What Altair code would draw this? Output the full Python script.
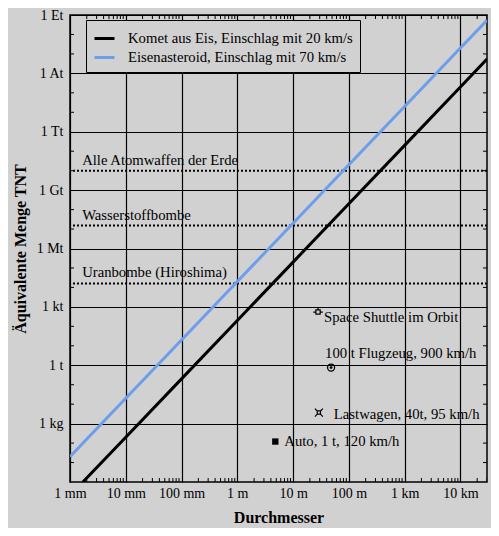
import altair as alt
import pandas as pd

# ---------------- data ----------------
# Diameter in metres, equivalent TNT in tonnes
komet_d = [0.0017, 0.01, 0.1, 1, 10, 100, 1000, 10000, 30000]
komet_t = [1e-6, 2e-4, 0.2, 200, 2e5, 2e8, 2e11, 2e14, 5.4e15]
eisen_d = [0.001, 0.01, 0.1, 1, 10, 100, 1000, 10000, 30000]
eisen_t = [2e-5, 2e-2, 20, 2e4, 2e7, 2e10, 2e13, 2e16, 5.4e17]
series_names = ["Komet aus Eis, Einschlag mit 20 km/s",
                "Eisenasteroid, Einschlag mit 70 km/s"]
series_colors = ["#000000", "#6d9eeb"]

ref_names = ["Alle Atomwaffen der Erde", "Wasserstoffbombe", "Uranbombe (Hiroshima)"]
ref_t = [1e10, 1.5e7, 1.6e4]

obj_names = ["Space Shuttle im Orbit", "100 t Flugzeug, 900 km/h",
             "Lastwagen, 40t, 95 km/h", "Auto, 1 t, 120 km/h"]
obj_d = [28, 48, 29, 4.8]
obj_t = [540, 0.76, 3.7e-3, 1.2e-4]

x_ticks = [1e-3, 1e-2, 1e-1, 1, 10, 100, 1000, 10000]
x_labels = ["1 mm", "10 mm", "100 mm", "1 m", "10 m", "100 m", "1 km", "10 km"]
y_ticks = [1e-3, 1, 1e3, 1e6, 1e9, 1e12, 1e15, 1e18]
y_labels = ["1 kg", "1 t", "1 kt", "1 Mt", "1 Gt", "1 Tt", "1 At", "1 Et"]
x_domain = [1e-3, 3e4]
y_domain = [1e-6, 1e18]

x_minor = [m * 10.0 ** e for e in range(-3, 5) for m in range(2, 10) if m * 10.0 ** e <= 3e4]
y_minor = [10.0 ** e for e in range(-5, 18) if e % 3 != 0]

# ---------------- tables ----------------
lines_df = pd.DataFrame(
    {"d": komet_d + eisen_d,
     "t": komet_t + eisen_t,
     "series": [series_names[0]] * len(komet_d) + [series_names[1]] * len(eisen_d)})
ref_df = pd.DataFrame({"name": ref_names, "t": ref_t})
obj_df = pd.DataFrame({"name": obj_names, "d": obj_d, "t": obj_t})
xminor_df = pd.DataFrame({"d": x_minor * 2,
                          "t": [y_domain[0]] * len(x_minor) + [y_domain[1]] * len(x_minor)})
yminor_df = pd.DataFrame({"t": y_minor * 2,
                          "d": [x_domain[0]] * len(y_minor) + [x_domain[1]] * len(y_minor)})

FONT = "Liberation Serif"
BG = "#d1d1d1"
TXT = 14.7

def arr_expr(labels, idx):
    return "[" + ",".join("'" + l + "'" for l in labels) + "][" + idx + "]"

xs = alt.Scale(type="log", domain=x_domain, nice=False)
ys = alt.Scale(type="log", domain=y_domain, nice=False)
x_axis = alt.Axis(values=x_ticks, labelExpr=arr_expr(x_labels, "round(log(datum.value)/LN10)+3"),
                  grid=True, gridColor="black", gridWidth=1.2, gridOpacity=1,
                  ticks=False, domain=False, labelFont=FONT, labelFontSize=14,
                  labelColor="black", labelPadding=4, labelFlush=False, labelOverlap=False,
                  title="Durchmesser", titleFont=FONT, titleFontSize=16,
                  titleFontWeight="bold", titleColor="black", titlePadding=9)
y_axis = alt.Axis(values=y_ticks, labelExpr=arr_expr(y_labels, "round(log(datum.value)/LN10/3)+1"),
                  grid=True, gridColor="black", gridWidth=1.2, gridOpacity=1,
                  ticks=False, domain=False, labelFont=FONT, labelFontSize=14,
                  labelColor="black", labelPadding=7, labelFlush=False, labelOverlap=False,
                  title="Äquivalente Menge TNT", titleFont=FONT, titleFontSize=16,
                  titleFontWeight="bold", titleColor="black", titlePadding=8)

def X(field="d"):
    return alt.X(field, type="quantitative", scale=xs, axis=x_axis)

def Y(field="t"):
    return alt.Y(field, type="quantitative", scale=ys, axis=y_axis)

lines = alt.Chart(lines_df).mark_line(strokeWidth=3, clip=True).encode(
    x=X(), y=Y(),
    color=alt.Color("series:N",
                    scale=alt.Scale(domain=series_names, range=series_colors),
                    legend=alt.Legend(title=None, orient="none", legendX=16, legendY=5,
                                      symbolType="stroke", symbolStrokeWidth=3, symbolSize=400,
                                      labelFont=FONT, labelFontSize=TXT, labelColor="black",
                                      labelLimit=0, labelOffset=12, fillColor=BG,
                                      strokeColor="black", padding=7, rowPadding=0)),
    detail="series:N")

ref_rules = alt.Chart(ref_df).mark_rule(color="black", strokeWidth=2, strokeDash=[2, 2]).encode(
    y=Y())
ref_text = alt.Chart(ref_df).mark_text(align="left", baseline="middle", dy=-10,
                                       font=FONT, fontSize=TXT, color="black").encode(
    x=alt.XDatum(0.00165, type="quantitative", scale=xs, axis=x_axis), y=Y(), text="name:N")

xminor = alt.Chart(xminor_df).mark_tick(orient="vertical", size=8, thickness=1,
                                        color="black", clip=True, opacity=1).encode(x=X(), y=Y())
yminor = alt.Chart(yminor_df).mark_tick(orient="horizontal", size=8, thickness=1,
                                        color="black", clip=True, opacity=1).encode(x=X(), y=Y())

def obj(i):
    return alt.Chart(obj_df.iloc[[i]])

shuttle_path = ("M-0.45,-0.45L0.45,-0.45L0.45,0.45L-0.45,0.45Z "
                "M0,-0.45L0,-1 M-0.45,0L-1,0 M0.45,0L1,0")
truck_path = ("M-0.4,-0.4L0.4,-0.4L0.4,0.4L-0.4,0.4Z M-0.4,-0.4L-1,-1 M0.4,-0.4L1,-1 "
              "M-0.4,0.4L-1,1 M0.4,0.4L1,1")

m_shuttle = obj(0).mark_point(shape=shuttle_path, size=90, filled=False, color="black",
                              strokeWidth=1.2, opacity=1).encode(x=X(), y=Y())
m_plane_ring = obj(1).mark_point(shape="circle", size=50, filled=False, color="black",
                                 strokeWidth=1.3, opacity=1).encode(x=X(), y=Y())
m_plane_dot = obj(1).mark_point(shape="circle", size=8, filled=True, color="black",
                                opacity=1).encode(x=X(), y=Y())
m_truck = obj(2).mark_point(shape=truck_path, size=64, filled=False, color="black",
                            strokeWidth=1.2, opacity=1).encode(x=X(), y=Y())
m_car = obj(3).mark_point(shape="square", size=40, filled=True, color="black",
                          opacity=1).encode(x=X(), y=Y())

def lab(i, dx, dy):
    return obj(i).mark_text(align="left", baseline="middle", dx=dx, dy=dy, font=FONT,
                            fontSize=TXT, color="black").encode(x=X(), y=Y(), text="name:N")

labels = [lab(0, 6, 6), lab(1, -6, -14), lab(2, 15, 2), lab(3, 9, 0)]

chart = alt.layer(
    ref_rules, ref_text, xminor, yminor, lines,
    m_shuttle, m_plane_ring, m_plane_dot, m_truck, m_car, *labels
).properties(
    width=417, height=467,
    autosize=alt.AutoSizeParams(type="none"),
    padding={"left": 62, "top": 7, "right": 4, "bottom": 46},
    background=BG,
).configure(font=FONT).configure_text(font=FONT).configure_legend(
    labelFont=FONT
).configure_view(stroke="black", strokeWidth=1.5, fill=BG)

chart.save("out.html", embed_options={"renderer": "svg", "actions": False})
